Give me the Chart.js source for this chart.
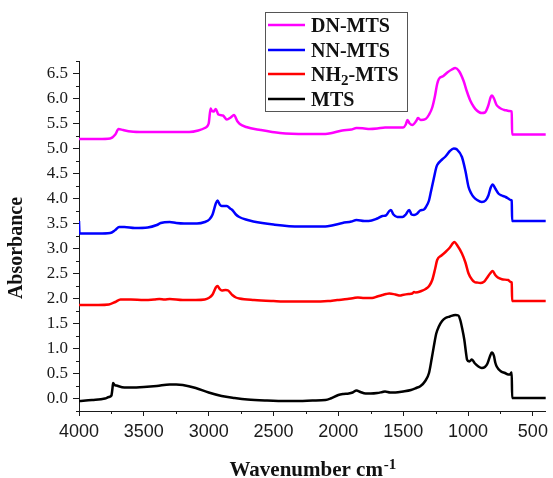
<!DOCTYPE html>
<html lang="en">
<head>
    <meta charset="UTF-8">
    <title>FTIR spectra</title>
    <style>
        body {
            margin: 0;
            background: white;
        }
        #wrap {
            width: 553px;
            height: 478px;
        }
    </style>
    <script src="https://cdn.jsdelivr.net/npm/chart.js"></script>
</head>
<body>
    <div id="wrap"><canvas id="ftirChart" width="553" height="478"></canvas></div>

    <script>
        // tick labels
        const xTicks = [4000, 3500, 3000, 2500, 2000, 1500, 1000, 500];
        const yTicks = [0, 0.5, 1, 1.5, 2, 2.5, 3, 3.5, 4, 4.5, 5, 5.5, 6, 6.5];
        const xMinorTicks = [3750, 3250, 2750, 2250, 1750, 1250, 750];
        const yMinorTicks = [-0.25, 0.25, 0.75, 1.25, 1.75, 2.25, 2.75, 3.25, 3.75, 4.25, 4.75, 5.25, 5.75, 6.25, 6.75];

        // DN-MTS (magenta)
        const dnWave = [4000, 3850, 3760, 3720, 3695, 3660, 3600, 3500, 3300, 3150, 3080, 3030, 3000, 2985, 2975, 2962, 2945, 2925, 2890, 2860, 2830, 2805, 2780, 2760, 2710, 2600, 2450, 2250, 2100, 2050, 1970, 1900, 1860, 1800, 1760, 1700, 1640, 1545, 1500, 1480, 1467, 1450, 1429, 1400, 1386, 1365, 1327, 1300, 1276, 1255, 1238, 1225, 1190, 1160, 1125, 1098, 1070, 1034, 1010, 983, 955, 932, 910, 894, 870, 845, 825, 815, 800, 780, 760, 741, 720, 700, 680, 663, 660, 400];
        const dnAbs = [5.19, 5.19, 5.20, 5.28, 5.39, 5.37, 5.34, 5.33, 5.33, 5.33, 5.36, 5.41, 5.50, 5.80, 5.75, 5.74, 5.79, 5.68, 5.66, 5.58, 5.62, 5.67, 5.55, 5.49, 5.43, 5.37, 5.31, 5.29, 5.29, 5.31, 5.36, 5.38, 5.41, 5.40, 5.39, 5.40, 5.42, 5.42, 5.42, 5.48, 5.57, 5.50, 5.47, 5.55, 5.61, 5.57, 5.59, 5.68, 5.82, 6.05, 6.29, 6.39, 6.45, 6.52, 6.58, 6.61, 6.55, 6.35, 6.15, 5.96, 5.83, 5.76, 5.72, 5.71, 5.72, 5.85, 6.03, 6.06, 6.00, 5.87, 5.82, 5.79, 5.77, 5.76, 5.75, 5.74, 5.28, 5.28];

        // NN-MTS (blue)
        const nnWave = [4000, 3996, 3850, 3760, 3720, 3690, 3650, 3570, 3470, 3400, 3370, 3300, 3250, 3190, 3090, 3030, 2995, 2970, 2945, 2932, 2915, 2900, 2860, 2835, 2818, 2790, 2764, 2700, 2656, 2500, 2300, 2100, 2050, 1968, 1900, 1860, 1800, 1766, 1700, 1660, 1634, 1610, 1595, 1575, 1545, 1506, 1480, 1454, 1435, 1416, 1391, 1370, 1340, 1327, 1301, 1285, 1264, 1245, 1238, 1200, 1174, 1140, 1110, 1085, 1047, 1020, 996, 975, 957, 930, 894, 865, 843, 825, 810, 790, 766, 740, 710, 690, 672, 663, 660, 400];
        const nnAbs = [3.55, 3.30, 3.30, 3.31, 3.37, 3.43, 3.43, 3.41, 3.42, 3.47, 3.51, 3.53, 3.51, 3.50, 3.50, 3.53, 3.58, 3.68, 3.90, 3.96, 3.88, 3.85, 3.85, 3.80, 3.77, 3.68, 3.63, 3.57, 3.54, 3.48, 3.44, 3.44, 3.46, 3.51, 3.54, 3.57, 3.55, 3.55, 3.60, 3.65, 3.66, 3.74, 3.77, 3.68, 3.63, 3.63, 3.68, 3.77, 3.68, 3.67, 3.70, 3.76, 3.78, 3.82, 3.96, 4.15, 4.40, 4.62, 4.67, 4.78, 4.84, 4.95, 5.00, 4.98, 4.83, 4.55, 4.23, 4.10, 4.03, 3.97, 3.93, 3.96, 4.06, 4.22, 4.28, 4.20, 4.10, 4.06, 4.03, 4.00, 3.97, 3.96, 3.55, 3.55];

        // NH2-MTS (red)
        const nh2Wave = [4000, 3850, 3770, 3720, 3680, 3600, 3500, 3420, 3380, 3340, 3300, 3200, 3100, 3030, 3000, 2970, 2945, 2932, 2915, 2899, 2870, 2850, 2818, 2790, 2764, 2650, 2500, 2380, 2200, 2080, 2009, 1930, 1880, 1850, 1800, 1740, 1700, 1660, 1631, 1607, 1560, 1523, 1506, 1460, 1430, 1416, 1405, 1360, 1327, 1300, 1276, 1255, 1238, 1205, 1174, 1140, 1105, 1085, 1047, 1020, 996, 970, 950, 932, 905, 880, 860, 830, 810, 790, 770, 754, 730, 690, 672, 663, 660, 400];
        const nh2Abs = [1.87, 1.87, 1.88, 1.93, 1.98, 1.98, 1.97, 1.98, 1.99, 1.98, 1.99, 1.97, 1.97, 1.98, 2.01, 2.08, 2.22, 2.25, 2.19, 2.16, 2.17, 2.16, 2.07, 2.02, 2.00, 1.97, 1.95, 1.94, 1.94, 1.95, 1.97, 1.99, 2.01, 2.02, 2.01, 2.01, 2.04, 2.07, 2.09, 2.10, 2.08, 2.06, 2.07, 2.09, 2.10, 2.13, 2.12, 2.15, 2.19, 2.25, 2.37, 2.58, 2.77, 2.86, 2.93, 3.02, 3.13, 3.07, 2.90, 2.72, 2.50, 2.38, 2.33, 2.32, 2.31, 2.33, 2.39, 2.50, 2.55, 2.47, 2.42, 2.40, 2.38, 2.37, 2.33, 2.32, 1.95, 1.95];

        // MTS (black)
        const mtsWave = [4000, 3900, 3800, 3770, 3750, 3742, 3737, 3725, 3712, 3650, 3600, 3500, 3400, 3300, 3250, 3200, 3100, 3000, 2900, 2800, 2700, 2550, 2400, 2300, 2200, 2100, 2060, 2000, 1960, 1920, 1890, 1860, 1830, 1790, 1750, 1700, 1660, 1640, 1600, 1560, 1500, 1440, 1400, 1366, 1330, 1301, 1280, 1264, 1245, 1225, 1200, 1174, 1140, 1098, 1075, 1060, 1045, 1029, 1015, 1008, 990, 970, 950, 920, 894, 870, 850, 830, 817, 800, 790, 779, 750, 715, 690, 675, 666, 663, 660, 400];
        const mtsAbs = [-0.05, -0.03, 0.00, 0.03, 0.06, 0.20, 0.31, 0.27, 0.26, 0.22, 0.22, 0.23, 0.25, 0.28, 0.28, 0.27, 0.21, 0.12, 0.05, 0.01, -0.02, -0.04, -0.05, -0.05, -0.04, -0.03, 0.00, 0.07, 0.09, 0.10, 0.12, 0.16, 0.13, 0.10, 0.10, 0.11, 0.13, 0.14, 0.12, 0.12, 0.14, 0.17, 0.21, 0.25, 0.35, 0.51, 0.80, 1.04, 1.30, 1.44, 1.55, 1.61, 1.64, 1.67, 1.66, 1.57, 1.40, 1.18, 0.90, 0.78, 0.74, 0.78, 0.71, 0.64, 0.61, 0.63, 0.70, 0.85, 0.92, 0.85, 0.72, 0.64, 0.55, 0.51, 0.48, 0.48, 0.52, 0.52, 0.01, 0.01];

        const seriesNames = ['DN-MTS', 'NN-MTS', 'NH2-MTS', 'MTS'];
        const seriesColors = ['#ff00ff', '#0000ff', '#ff0000', '#000000'];

        function toPoints(xs, ys) {
            return xs.map((x, i) => ({ x: x, y: ys[i] }));
        }

        const allData = [toPoints(dnWave, dnAbs), toPoints(nnWave, nnAbs), toPoints(nh2Wave, nh2Abs), toPoints(mtsWave, mtsAbs)];

        const serif = "'Liberation Serif', 'Times New Roman', serif";
        const sans = "'Liberation Sans', Arial, sans-serif";
        const axisColor = '#1a1a1a';

        // minor ticks, legend box and axis titles
        const extrasPlugin = {
            id: 'extras',
            afterDraw(chart) {
                const ctx = chart.ctx;
                const xs = chart.scales.x;
                const ys = chart.scales.y;
                const area = chart.chartArea;
                ctx.save();
                ctx.strokeStyle = axisColor;
                ctx.lineWidth = 1;
                ctx.beginPath();
                xMinorTicks.forEach(v => {
                    const px = Math.round(xs.getPixelForValue(v)) + 0.5;
                    ctx.moveTo(px, area.bottom);
                    ctx.lineTo(px, area.bottom + 3);
                });
                yMinorTicks.forEach(v => {
                    const py = Math.round(ys.getPixelForValue(v)) + 0.5;
                    ctx.moveTo(area.left, py);
                    ctx.lineTo(area.left - 3, py);
                });
                ctx.stroke();

                // legend
                const lx = 265, ly = 12, lw = 142, lh = 99;
                ctx.fillStyle = 'white';
                ctx.fillRect(lx, ly, lw, lh);
                ctx.strokeStyle = '#555';
                ctx.strokeRect(lx + 0.5, ly + 0.5, lw, lh);
                const rowY = [25, 50, 74, 99];
                seriesNames.forEach((name, i) => {
                    ctx.strokeStyle = seriesColors[i];
                    ctx.lineWidth = 2.5;
                    ctx.beginPath();
                    ctx.moveTo(268, rowY[i]);
                    ctx.lineTo(305, rowY[i]);
                    ctx.stroke();
                    ctx.fillStyle = '#111';
                    ctx.textBaseline = 'middle';
                    ctx.textAlign = 'left';
                    ctx.font = 'bold 20px ' + serif;
                    const ty = rowY[i] + 2;
                    if (name === 'NH2-MTS') {
                        let x = 311;
                        ctx.fillText('NH', x, ty);
                        x += ctx.measureText('NH').width;
                        ctx.font = 'bold 15px ' + serif;
                        ctx.fillText('2', x, ty + 5);
                        x += ctx.measureText('2').width;
                        ctx.font = 'bold 20px ' + serif;
                        ctx.fillText('-MTS', x, ty);
                    } else {
                        ctx.fillText(name, 311, ty);
                    }
                });

                // x title
                ctx.fillStyle = '#111';
                ctx.textBaseline = 'alphabetic';
                ctx.font = 'bold 21px ' + serif;
                const main = 'Wavenumber cm';
                ctx.font = 'bold 15px ' + serif;
                const supW = ctx.measureText('-1').width;
                ctx.font = 'bold 21px ' + serif;
                const mainW = ctx.measureText(main).width;
                const cx = (area.left + area.right) / 2;
                const startX = cx - (mainW + supW) / 2;
                ctx.textAlign = 'left';
                ctx.fillText(main, startX, 476);
                ctx.font = 'bold 15px ' + serif;
                ctx.fillText('-1', startX + mainW + 1, 469);

                // y title
                ctx.translate(17, 248);
                ctx.rotate(-Math.PI / 2);
                ctx.textAlign = 'center';
                ctx.textBaseline = 'middle';
                ctx.font = 'bold 20px ' + serif;
                ctx.fillText('Absorbance', 0, 0);
                ctx.restore();
            }
        };

        const ctx = document.getElementById('ftirChart').getContext('2d');
        const ftirChart = new Chart(ctx, {
            type: 'line',
            data: {
                datasets: seriesNames.map((name, i) => ({
                    label: name,
                    data: allData[i],
                    borderColor: seriesColors[i],
                    backgroundColor: seriesColors[i],
                    borderWidth: 2.5,
                    pointRadius: 0,
                    fill: false,
                    cubicInterpolationMode: 'monotone'
                }))
            },
            options: {
                responsive: false,
                animation: false,
                layout: {
                    padding: { top: 61, right: 4, left: 0, bottom: 0 }
                },
                scales: {
                    x: {
                        type: 'linear',
                        min: 400,
                        max: 4000,
                        reverse: true,
                        afterBuildTicks: s => { s.ticks = xTicks.map(v => ({ value: v })); },
                        afterFit: s => { s.height = 67; },
                        border: { display: true, color: axisColor, width: 1 },
                        grid: { display: true, drawOnChartArea: false, drawTicks: true, tickLength: 5, color: axisColor },
                        ticks: {
                            padding: 5,
                            color: '#1a1a1a',
                            font: { family: sans, size: 18 },
                            maxRotation: 0,
                            callback: v => String(v)
                        }
                    },
                    y: {
                        min: -0.25,
                        max: 6.75,
                        afterBuildTicks: s => { s.ticks = yTicks.map(v => ({ value: v })); },
                        afterFit: s => { s.width = 79; },
                        border: { display: true, color: axisColor, width: 1 },
                        grid: { display: true, drawOnChartArea: false, drawTicks: true, tickLength: 6, color: axisColor },
                        ticks: {
                            padding: 5,
                            color: '#1a1a1a',
                            font: { family: serif, size: 17 },
                            callback: v => Number(v).toFixed(1)
                        }
                    }
                },
                plugins: {
                    legend: { display: false },
                    tooltip: { enabled: false }
                }
            },
            plugins: [extrasPlugin]
        });
    </script>
</body>
</html>
